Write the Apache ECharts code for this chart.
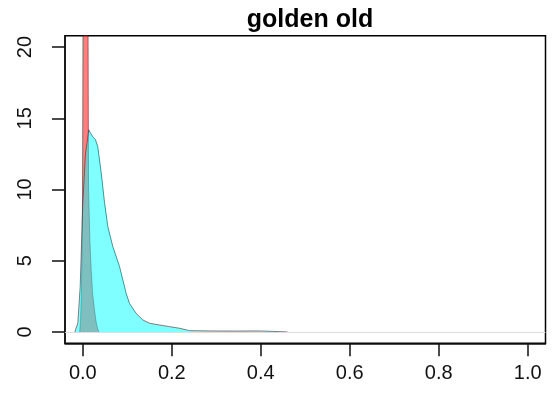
<!DOCTYPE html>
<html>
<head>
<meta charset="utf-8">
<script src="https://cdn.jsdelivr.net/npm/echarts@6/dist/echarts.min.js"></script>
<style>
html,body{margin:0;padding:0;background:#fff;}
#chart{width:555px;height:401px;}
</style>
</head>
<body>
<div id="chart"></div>
<script>
// density curves
var redX = [-0.007,-0.005,-0.003,-0.0015,-0.0007,0.0,0.001,0.004,0.008,0.011,0.012,0.0125,0.013,0.016,0.019,0.022,0.026,0.030,0.033,0.036];
var redY = [0,0.8,3,6.5,9.3,16,30,45,45,30,20,14,10,6.3,4.3,2.7,1.6,0.7,0.25,0];

var cyanX = [-0.018,-0.0164,-0.0112,-0.0058,0.0,0.006,0.0135,0.0166,0.0225,0.0285,0.0337,0.0413,0.0488,0.0562,0.0674,0.0825,0.0975,0.105,0.12,0.135,0.15,0.172,0.195,0.217,0.24,0.285,0.34,0.397,0.46];
var cyanY = [0,0.02,0.61,3.2,9.0,12.5,14.2,14.0,13.7,13.5,13.0,11.2,9.1,7.4,6.0,4.6,2.7,2.0,1.3,0.84,0.61,0.49,0.37,0.26,0.09,0.07,0.06,0.07,0];

var xTicks = [0.0,0.2,0.4,0.6,0.8,1.0];
var yTicks = [0,5,10,15,20];

function pairs(xs, ys){
	var out = [];
	for(var i = 0; i < xs.length; i++) out.push([xs[i], ys[i]]);
	return out;
}

var chart = echarts.init(document.getElementById('chart'), null, {renderer:'canvas'});

chart.setOption({
	animation:false,
	title:{
		text:'golden old',
		left:305,
		textAlign:'center',
		top:3,
		textStyle:{fontSize:25,fontWeight:'bold',color:'#000'}
	},
	grid:{left:65,right:9.5,top:35.7,bottom:57.7,show:true,borderColor:'#000',borderWidth:1.5,backgroundColor:'transparent'},
	xAxis:{
		type:'value',min:-0.04,max:1.04,
		axisLine:{show:true,onZero:false,lineStyle:{color:'#111',width:1.5}},
		axisTick:{show:true,inside:false,length:13,customValues:xTicks,lineStyle:{color:'#111',width:1.5}},
		axisLabel:{margin:20,fontSize:20,color:'#111',customValues:xTicks,formatter:function(v){return v.toFixed(1);}},
		splitLine:{show:false}
	},
	yAxis:{
		type:'value',min:-0.8,max:20.8,
		axisLine:{show:true,onZero:false,lineStyle:{color:'#111',width:1.5}},
		axisTick:{show:true,inside:false,length:13,customValues:yTicks,lineStyle:{color:'#111',width:1.5}},
		axisLabel:{margin:30,rotate:90,fontSize:20,color:'#111',customValues:yTicks},
		splitLine:{show:false}
	},
	series:[
		{
			name:'red',type:'line',
			data:pairs(redX,redY),
			symbol:'none',smooth:false,clip:true,
			lineStyle:{color:'rgba(60,0,0,0.6)',width:0.8},
			areaStyle:{color:'rgba(255,0,0,0.5)',opacity:1},
			z:2
		},
		{
			name:'cyan',type:'line',
			data:pairs(cyanX,cyanY),
			symbol:'none',smooth:false,clip:true,
			lineStyle:{color:'rgba(20,60,60,0.75)',width:0.8},
			areaStyle:{color:'rgba(0,255,255,0.5)',opacity:1},
			markLine:{
				silent:true,symbol:'none',label:{show:false},
				lineStyle:{color:'#dddddd',width:1,type:'solid'},
				data:[{yAxis:0}]
			},
			z:3
		}
	]
});
</script>
</body>
</html>
